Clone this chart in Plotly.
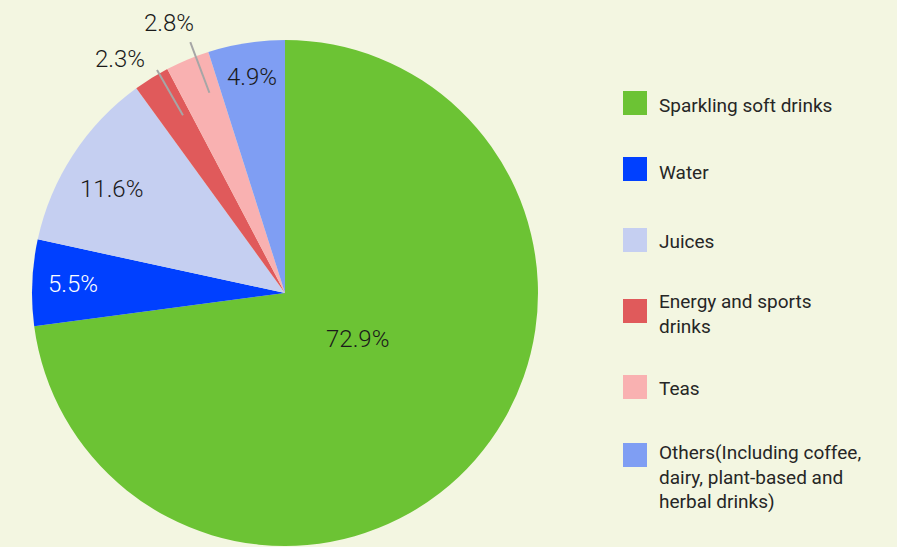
import math
import plotly.graph_objects as go

# Beverage category shares (%)
categories = ["Sparkling soft drinks", "Water", "Juices", "Energy and sports drinks", "Teas",
              "Others(Including coffee, dairy, plant-based and herbal drinks)"]
shares = [72.9, 5.5, 11.6, 2.3, 2.8, 4.9]
legend_text = ["Sparkling soft drinks", "Water", "Juices", "Energy and sports<br>drinks", "Teas",
               "Others(Including coffee,<br>dairy, plant-based and<br>herbal drinks)"]

colors = ["#6cc334", "#0040ff", "#c5cff1", "#e05a5b", "#f9b1b1", "#7f9ef3"]
label_colors = ["#1a1a1a", "#ffffff", "#1a1a1a", "#1a1a1a", "#1a1a1a", "#1a1a1a"]

# label placement: radius as a fraction of the pie radius, angular nudge in degrees
label_radius = [0.341, 0.838, 0.801, 1.132, 1.162, 0.863]
label_nudge = [-9.0, 0.0, -2.2, -3.3, -0.5, 0.2]
# leader lines (inner, outer radius fractions) for labels sitting outside the pie
leaders = [None, None, None, (0.81, 1.016), (0.846, 1.06), None]

W, H = 897, 547
BG = "#f3f6e1"
cx, cy, R = 285, 293, 253  # pie centre / radius in pixels

fig = go.Figure(go.Pie(
    labels=categories,
    values=shares,
    sort=False,
    direction="clockwise",
    rotation=0,
    marker=dict(colors=colors, line=dict(width=0)),
    textinfo="none",
    hoverinfo="label+percent",
    showlegend=False,
    domain=dict(x=[(cx - R) / W, (cx + R) / W], y=[1 - (cy + R) / H, 1 - (cy - R) / H]),
))


def paper(x, y):
    return x / W, 1 - y / H


def polar(theta, r):
    # theta measured clockwise from 12 o'clock, r in pixels
    return cx + r * math.sin(theta), cy - r * math.cos(theta)


shapes = []
annotations = []

total = sum(shares)
cum = 0.0
for v, col, rf, nudge, lead in zip(shares, label_colors, label_radius, label_nudge, leaders):
    mid = (cum + v / 2) / total * 2 * math.pi
    cum += v
    tx, ty = paper(*polar(mid + math.radians(nudge), rf * R))
    annotations.append(dict(x=tx, y=ty, xref="paper", yref="paper", text=f"{v:.1f}%",
                            showarrow=False, xanchor="center", yanchor="middle",
                            font=dict(family="Roboto", size=24, color=col, weight=300)))
    if lead:
        a = mid + math.radians(2)
        x0, y0 = paper(*polar(a, lead[0] * R))
        x1, y1 = paper(*polar(a, lead[1] * R))
        shapes.append(dict(type="line", xref="paper", yref="paper", x0=x0, y0=y0, x1=x1, y1=y1,
                           line=dict(color="#a6a6a6", width=2)))

# legend: colour squares with captions
legend_square_top = [91, 157, 228, 299, 375, 443]
legend_text_mid = [106, 172, 241, 314, 388, 477]
for top, mid_y, txt, col in zip(legend_square_top, legend_text_mid, legend_text, colors):
    x0, y0 = paper(623, top)
    x1, y1 = paper(647, top + 24)
    shapes.append(dict(type="rect", xref="paper", yref="paper", x0=x0, y0=y1, x1=x1, y1=y0,
                       fillcolor=col, line=dict(width=0)))
    lx, ly = paper(657, mid_y)
    annotations.append(dict(x=lx, y=ly, xref="paper", yref="paper", text=txt,
                            showarrow=False, xanchor="left", yanchor="middle", align="left",
                            font=dict(family="Roboto", size=19, color="#262626")))

fig.update_layout(
    width=W, height=H,
    margin=dict(l=0, r=0, t=0, b=0),
    paper_bgcolor=BG, plot_bgcolor=BG,
    shapes=shapes, annotations=annotations,
)

fig.write_html("out.html")
